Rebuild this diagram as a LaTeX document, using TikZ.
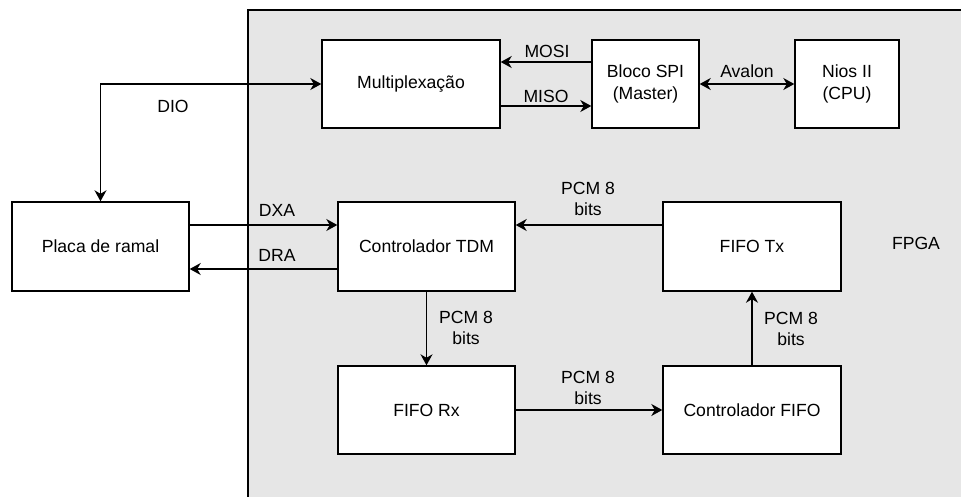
\documentclass[tikz,border=0pt]{standalone}
\usepackage{fontspec}
\setmainfont{Liberation Sans}
\usetikzlibrary{arrows.meta}
\definecolor{fpgagray}{HTML}{E6E6E6}
\tikzset{
  blk/.style={draw=black, fill=white, line width=1.4pt, inner sep=0pt, align=center},
  tip/.tip={Stealth[length=11pt,width=12pt,inset=3.5pt]},
  conn/.style={line width=1.4pt, -tip},
  bconn/.style={line width=1.4pt, tip-tip},
  lbl/.style={inner sep=0pt, align=center}
}
\begin{document}
\begin{tikzpicture}[x=1pt,y=-1pt,font=\fontsize{17.6}{21.5}\selectfont]
\useasboundingbox (0,0) rectangle (961,496);
\begin{scope}
\clip (0,0) rectangle (961,496);
\draw[fill=fpgagray, line width=1.4pt] (248,10) rectangle (975,510);
\end{scope}
\node[blk, minimum width=178pt, minimum height=88pt] (mux) at (411,84) {Multiplexação};
\node[blk, minimum width=107pt, minimum height=88pt] (spi) at (645.5,84) {Bloco SPI\\(Master)};
\node[blk, minimum width=104pt, minimum height=88pt] (nios) at (847,84) {Nios II\\(CPU)};
\node[blk, minimum width=177pt, minimum height=89pt] (placa) at (100.5,246.5) {Placa de ramal};
\node[blk, minimum width=177pt, minimum height=89pt] (tdm) at (426.5,246.5) {Controlador TDM};
\node[blk, minimum width=178pt, minimum height=89pt] (ftx) at (752,246.5) {FIFO Tx};
\node[blk, minimum width=177pt, minimum height=88pt] (frx) at (426.5,410) {FIFO Rx};
\node[blk, minimum width=178pt, minimum height=88pt] (cfifo) at (752,410) {Controlador FIFO};

\draw[bconn] (mux.west) -| (placa.north);
\draw[conn] ([yshift=22pt]spi.west) -- ([yshift=22pt]mux.east);
\draw[conn] ([yshift=-22pt]mux.east) -- ([yshift=-22pt]spi.west);
\draw[bconn] (spi.east) -- (nios.west);
\draw[conn] ([yshift=21.5pt]placa.east) -- ([yshift=21.5pt]tdm.west);
\draw[conn] ([yshift=-22.5pt]tdm.west) -- ([yshift=-22.5pt]placa.east);
\draw[conn] ([yshift=21.5pt]ftx.west) -- ([yshift=21.5pt]tdm.east);
\draw[conn] (tdm.south) -- (frx.north);
\draw[conn] (frx.east) -- (cfifo.west);
\draw[conn] (cfifo.north) -- (ftx.south);

\node[lbl] (lmosi) at (547,51) {MOSI};
\node[lbl] (lmiso) at (546,96) {MISO};
\node[lbl] (lavalon) at (747,71) {Avalon};
\node[lbl] (ldio) at (173,106) {DIO};
\node[lbl] (ldxa) at (277,210) {DXA};
\node[lbl] (ldra) at (277,255) {DRA};
\node[lbl] (lp1) at (588,199) {PCM 8\\bits};
\node[lbl] (lp2) at (466,328) {PCM 8\\bits};
\node[lbl] (lp3) at (588,388) {PCM 8\\bits};
\node[lbl] (lp4) at (791,329) {PCM 8\\bits};
\node[lbl] (lfpga) at (916,243) {FPGA};
\end{tikzpicture}
\end{document}
